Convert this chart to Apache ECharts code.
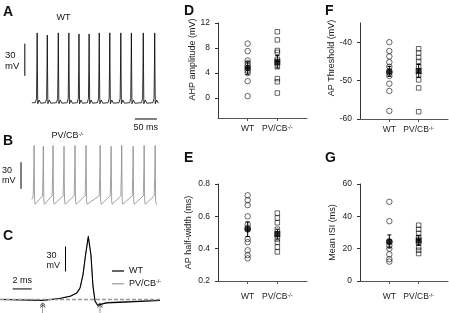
<!DOCTYPE html>
<html>
<head>
<meta charset="utf-8">
<script src="https://cdn.jsdelivr.net/npm/echarts@6/dist/echarts.min.js"></script>
<style>
html, body { margin: 0; padding: 0; background: #fff; }
#main { width: 449px; height: 313px; }
</style>
</head>
<body>
<div id="main"></div>
<script>
// 分组
var categories = ['WT', 'PV/CB-/-'];

// D: AHP amplitude (mV)
var ahpWT = [8.7, 7.5, 6.0, 5.6, 5.2, 4.4, 4.0, 2.7, 0.3];
var ahpPV = [10.6, 9.3, 7.6, 7.3, 6.2, 5.5, 5.0, 3.1, 2.6, 0.8];
var ahpMean = [4.8, 5.8];
var ahpSem = [1.0, 1.0];

// E: AP half-width (ms)
var halfWidthWT = [0.73, 0.70, 0.67, 0.60, 0.55, 0.53, 0.46, 0.44, 0.39, 0.36, 0.34];
var halfWidthPV = [0.62, 0.59, 0.56, 0.52, 0.49, 0.46, 0.44, 0.41, 0.38];
var halfWidthMean = [0.52, 0.49];
var halfWidthSem = [0.045, 0.03];

// F: AP Threshold (mV)
var thresholdWT = [-40, -42.3, -43.7, -45.2, -46.4, -48.0, -48.8, -50.8, -52.7, -57.9];
var thresholdPV = [-41.7, -42.8, -44.0, -45.0, -46.3, -48.5, -49.8, -51.9, -58.1];
var thresholdMean = [-47.6, -47.5];
var thresholdSem = [1.3, 1.7];

// G: Mean ISI (ms)
var isiWT = [49, 37, 24, 22, 20, 16.5, 13.5, 12];
var isiPV = [34.5, 32, 29.5, 27, 24, 21, 19, 17];
var isiMean = [24.5, 25];
var isiSem = [4, 3];

// A, B: 放电序列, 峰值时间 (ms) 与峰值 (mV)
var spikeTimesWT = [12, 35, 60, 84, 107, 130, 153, 177, 202, 226, 253, 279];
var spikePeaksWT = [5, 3, 5, 5, 4, 4, 5, 5, 5, 5, 5, 5];
var spikeTimesPV = [5, 26, 48, 73, 98, 123, 155, 180, 204, 230, 255, 280];
var spikePeaksPV = [5, 4, 5, 4, 5, 5, 5, 4, 5, 4, 5, 5];
var traceStartWT = [0, -60];
var traceStartPV = [0, -56];
// 单个动作电位波形 [相对峰值时间 ms, mV], null 为峰值
var spikeShapeWT = [[-4, -60], [-1.5, -56], [-0.6, -25], [0, null], [0.6, -30], [1.3, -61], [2.5, -62.5], [4.5, -57.5], [8, -60.5]];
var spikeShapePV = [[-2, -52], [-0.5, -20], [0, null], [0.6, -30], [1.2, -58], [2.5, -61.5], [4, -61]];

// C: 单个动作电位 (ms, mV)
var apTimeC = [-9.3, -4.8, -3.0, -1.9, -1.2, -0.87, -0.56, -0.29, 0, 0.28, 0.49, 0.71, 0.97, 1.23, 1.97, 4.4, 7.55];
var apWTC = [-60.8, -62.0, -59.6, -56.8, -52.8, -46.8, -30.8, -6.8, 15.3, -6.8, -44.4, -62.8, -67.6, -66.8, -64.8, -63.6, -62.0];
var apPVC = [-60.4, -61.5, -59.2, -56.5, -52.5, -46.5, -31.5, -8, 13.5, -8, -45, -62, -66.8, -66.2, -64.2, -63.0, -61.4];
var baselineC = -60;
var arrowTimesC = [-4.8, 1.23];

var FONT = 'Liberation Sans';

/**
 * 由峰值时间和单峰波形拼出电压曲线
 */
function buildTrace(start, times, peaks, shape) {
    var points = [start];
    times.forEach(function (t, i) {
        shape.forEach(function (p) {
            points.push([t + p[0], p[1] === null ? peaks[i] : p[1]]);
        });
    });
    return points;
}

function zip(xs, ys) {
    return xs.map(function (x, i) { return [x, ys[i]]; });
}

/**
 * 标尺线段 (数据坐标)
 */
function barSeries(idx, p1, p2, color) {
    return {
        type: 'line', xAxisIndex: idx, yAxisIndex: idx, data: [p1, p2],
        symbol: 'none', silent: true,
        lineStyle: {color: color || '#000', width: 1}
    };
}

function hiddenAxis(idx, min, max) {
    return {gridIndex: idx, type: 'value', min: min, max: max, show: false};
}

function catLabel(v) {
    if (v === 1) return categories[0];
    if (v === 2) return 'PV/CB{sup|-/-}';
    return '';
}

function catLabelName(name) {
    return name === categories[1] ? 'PV/CB{sup|-/-}' : name;
}

var supRich = {sup: {fontSize: 5.5, fontFamily: FONT, color: '#222', verticalAlign: 'top', padding: [0, 0, 4, 0]}};

function scatterXAxis(idx, margin) {
    return {
        gridIndex: idx, type: 'value', min: 0, max: 3,
        axisLine: {onZero: false, lineStyle: {color: '#555', width: 1}},
        axisTick: {show: true, length: 3, customValues: [1, 2], lineStyle: {color: '#555'}},
        axisLabel: {customValues: [1, 2], formatter: catLabel, margin: margin, fontSize: 8.5, fontFamily: FONT, color: '#222', rich: supRich},
        splitLine: {show: false}
    };
}

function scatterYAxis(idx, min, max, ticks, name, gap, shift) {
    return {
        gridIndex: idx, type: 'value', min: min, max: max,
        axisLine: {show: true, onZero: false, lineStyle: {color: '#333', width: 1}},
        axisTick: {show: true, length: 3, customValues: ticks, lineStyle: {color: '#333'}},
        axisLabel: {customValues: ticks, margin: 8, fontSize: 8.5, fontFamily: FONT, color: '#222'},
        splitLine: {show: false},
        name: name, nameLocation: 'middle', nameGap: gap,
        nameTextStyle: {fontSize: 9, fontFamily: FONT, color: '#222', padding: [0, 0, 0, shift]}
    };
}

function openSeries(idx, values, xv, symbol) {
    return {
        type: 'scatter', xAxisIndex: idx, yAxisIndex: idx, silent: true,
        symbol: symbol, symbolSize: symbol === 'circle' ? 5.5 : 4.5,
        data: values.map(function (v) { return [xv, v]; }),
        itemStyle: {color: 'rgba(255,255,255,0)', borderColor: '#111', borderWidth: 0.8}
    };
}

function renderErrorBar(params, api) {
    var x = api.value(0);
    var lo = api.coord([x, api.value(1)]);
    var hi = api.coord([x, api.value(2)]);
    var w = 2;
    var style = {stroke: '#000', lineWidth: 1};
    return {
        type: 'group',
        children: [
            {type: 'line', shape: {x1: lo[0], y1: lo[1], x2: hi[0], y2: hi[1]}, style: style},
            {type: 'line', shape: {x1: lo[0] - w, y1: lo[1], x2: lo[0] + w, y2: lo[1]}, style: style},
            {type: 'line', shape: {x1: hi[0] - w, y1: hi[1], x2: hi[0] + w, y2: hi[1]}, style: style}
        ]
    };
}

function statSeries(idx, wt, pv, mean, sem) {
    return [
        openSeries(idx, wt, 1, 'circle'),
        openSeries(idx, pv, 2, 'rect'),
        {
            type: 'custom', xAxisIndex: idx, yAxisIndex: idx, silent: true,
            renderItem: renderErrorBar,
            data: mean.map(function (m, i) { return [i + 1, m - sem[i], m + sem[i]]; }),
            z: 3
        },
        {
            type: 'scatter', xAxisIndex: idx, yAxisIndex: idx, silent: true, z: 4,
            data: [
                {value: [1, mean[0]], symbol: 'circle', symbolSize: 6.5},
                {value: [2, mean[1]], symbol: 'rect', symbolSize: 6}
            ],
            itemStyle: {color: '#000'}
        }
    ];
}

function txt(left, top, text, size, bold, extra) {
    var el = {
        type: 'text', left: left, top: top, silent: true,
        style: {text: text, fontSize: size, fontFamily: FONT, fontWeight: bold ? 'bold' : 'normal', fill: '#111', rich: supRich}
    };
    if (extra) {
        for (var k in extra) el.style[k] = extra[k];
    }
    return el;
}

var chart = echarts.init(document.getElementById('main'));

var option = {
    animation: false,
    backgroundColor: '#fff',
    textStyle: {fontFamily: FONT},
    grid: [
        {left: 20, top: 20, width: 140, height: 102},
        {left: 20, top: 125, width: 140, height: 85},
        {left: 0, top: 225, width: 160, height: 88},
        {left: 218, top: 23, width: 89, height: 95},
        {left: 218, top: 184, width: 89, height: 97},
        {left: 360, top: 23, width: 88, height: 96},
        {left: 360, top: 184, width: 88, height: 97}
    ],
    xAxis: [
        hiddenAxis(0, -27, 291),
        hiddenAxis(1, -27, 291),
        hiddenAxis(2, -9.3, 7.55),
        scatterXAxis(3, 6),
        scatterXAxis(4, 11),
        scatterXAxis(5, 6),
        scatterXAxis(6, 11)
    ],
    yAxis: [
        hiddenAxis(0, -78, 17),
        hiddenAxis(1, -68, 28),
        hiddenAxis(2, -77, 29),
        scatterYAxis(3, -3.2, 12, [0, 4, 8, 12], 'AHP amplitude (mV)', 21, 22),
        scatterYAxis(4, 0.2, 0.8, [0.2, 0.4, 0.6, 0.8], 'AP half-width (ms)', 25, 0),
        scatterYAxis(5, -60, -35, [-60, -50, -40], 'AP Threshold (mV)', 22, 26),
        scatterYAxis(6, 0, 60, [0, 20, 40, 60], 'Mean ISI (ms)', 23, 0)
    ],
    legend: {
        data: categories, orient: 'vertical', left: 107, top: 261.5,
        icon: 'rect', itemWidth: 12, itemHeight: 1.2, itemGap: 3.3,
        textStyle: {fontSize: 9, fontFamily: FONT, color: '#111', rich: supRich},
        formatter: catLabelName
    },
    series: [].concat(
        [
            {
                type: 'line', xAxisIndex: 0, yAxisIndex: 0, symbol: 'none', silent: true,
                data: buildTrace(traceStartWT, spikeTimesWT, spikePeaksWT, spikeShapeWT),
                lineStyle: {color: '#000', width: 0.8, join: 'bevel'}
            },
            barSeries(0, [-16, -35], [-16, -5]),
            barSeries(0, [234, -75.2], [284, -75.2]),
            {
                type: 'line', xAxisIndex: 1, yAxisIndex: 1, symbol: 'none', silent: true,
                data: buildTrace(traceStartPV, spikeTimesPV, spikePeaksPV, spikeShapePV),
                lineStyle: {color: '#8a8a8a', width: 0.8, join: 'bevel'}
            },
            barSeries(1, [-24.7, -44], [-24.7, -14]),
            {
                name: categories[1], type: 'line', xAxisIndex: 2, yAxisIndex: 2, symbol: 'none', silent: true,
                data: zip(apTimeC, apPVC),
                lineStyle: {color: '#9a9a9a', width: 1, join: 'round'}, itemStyle: {color: '#9a9a9a'},
                markLine: {
                    silent: true, symbol: 'none', label: {show: false},
                    lineStyle: {color: '#999', type: [4, 2], width: 1.3},
                    data: [{yAxis: baselineC}]
                }
            },
            {
                name: categories[0], type: 'line', xAxisIndex: 2, yAxisIndex: 2, symbol: 'none', silent: true,
                data: zip(apTimeC, apWTC),
                lineStyle: {color: '#000', width: 1.1, join: 'round'}, itemStyle: {color: '#000'}
            },
            barSeries(2, [-2.4, -27], [-2.4, 3]),
            barSeries(2, [-7.96, -48], [-5.96, -48]),
            {
                type: 'scatter', xAxisIndex: 2, yAxisIndex: 2, silent: true,
                symbol: 'path://M5,0 L5,20 M1,5 L5,0 L9,5 M1,9 L5,4 L9,9',
                symbolSize: [5, 10],
                data: arrowTimesC.map(function (t) { return [t, -71]; }),
                itemStyle: {color: 'rgba(0,0,0,0)', borderColor: '#222', borderWidth: 0.8}
            }
        ],
        statSeries(3, ahpWT, ahpPV, ahpMean, ahpSem),
        statSeries(4, halfWidthWT, halfWidthPV, halfWidthMean, halfWidthSem),
        statSeries(5, thresholdWT, thresholdPV, thresholdMean, thresholdSem),
        statSeries(6, isiWT, isiPV, isiMean, isiSem)
    ),
    graphic: [
        txt(3, 5.5, 'A', 14, true),
        txt(3, 134, 'B', 14, true),
        txt(3, 229, 'C', 14, true),
        txt(184, 4, 'D', 14, true),
        txt(184, 151, 'E', 14, true),
        txt(325, 4, 'F', 14, true),
        txt(325, 151, 'G', 14, true),
        txt(56.5, 13, 'WT', 9),
        txt(5, 49.5, '30\nmV', 9.5, false, {lineHeight: 11}),
        txt(133.5, 123, '50 ms', 9),
        txt(51.5, 131, 'PV/CB{sup|-/-}', 9),
        txt(2, 166, '30\nmV', 9, false, {lineHeight: 10}),
        txt(46.5, 251, '30\nmV', 9, false, {lineHeight: 10}),
        txt(12.5, 276, '2 ms', 9)
    ]
};

chart.setOption(option);
</script>
</body>
</html>
